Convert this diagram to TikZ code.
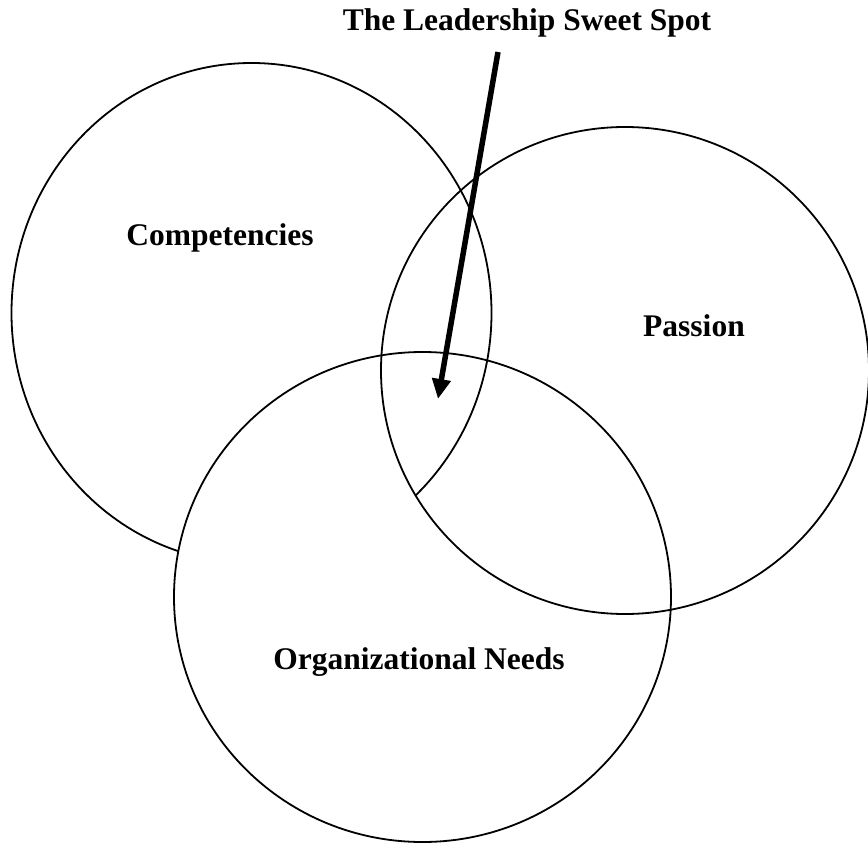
\documentclass[tikz,border=0pt]{standalone}
\usepackage{fontspec}
\setmainfont{Liberation Serif}
\usetikzlibrary{arrows.meta}
\begin{document}
\begin{tikzpicture}[x=1pt,y=-1pt,
  ring/.style={draw=black,line width=1.8pt},
  label/.style={font=\bfseries\fontsize{31.5}{36}\selectfont,inner sep=0pt},
  pointer/.style={line width=5.5pt,-{Triangle[width=18pt,length=20pt]}}]
\useasboundingbox (0,0) rectangle (868,843);

% centres of the three sets
\coordinate (comp) at (251.5,313);
\coordinate (pass) at (625,370.5);
\coordinate (org)  at (422.5,597);

% Competencies, partly hidden behind Organizational Needs
\draw[ring] (comp) ellipse [x radius=240, y radius=250];
\fill[white] (org) ellipse [x radius=248.5, y radius=245];
% the part of Competencies that stays visible in the triple overlap
\begin{scope}
  \clip (pass) ellipse [x radius=244, y radius=243.5];
  \clip (org) ellipse [x radius=248.5, y radius=245];
  \draw[ring] (comp) ellipse [x radius=240, y radius=250];
\end{scope}
\draw[ring] (org) ellipse [x radius=248.5, y radius=245];
\draw[ring] (pass) ellipse [x radius=244, y radius=243.5];

% labels
\node[label] (title) at (527,23) {The Leadership Sweet Spot};
\node[label] (lcomp) at (220,238) {Competencies};
\node[label] (lpass) at (694,326) {Passion};
\node[label] (lorg)  at (419,662) {Organizational Needs};

% arrow into the sweet spot
\coordinate (tail) at (498,52);
\coordinate (tip)  at (438,399);
\draw[pointer] (tail) -- (tip);
\end{tikzpicture}
\end{document}
